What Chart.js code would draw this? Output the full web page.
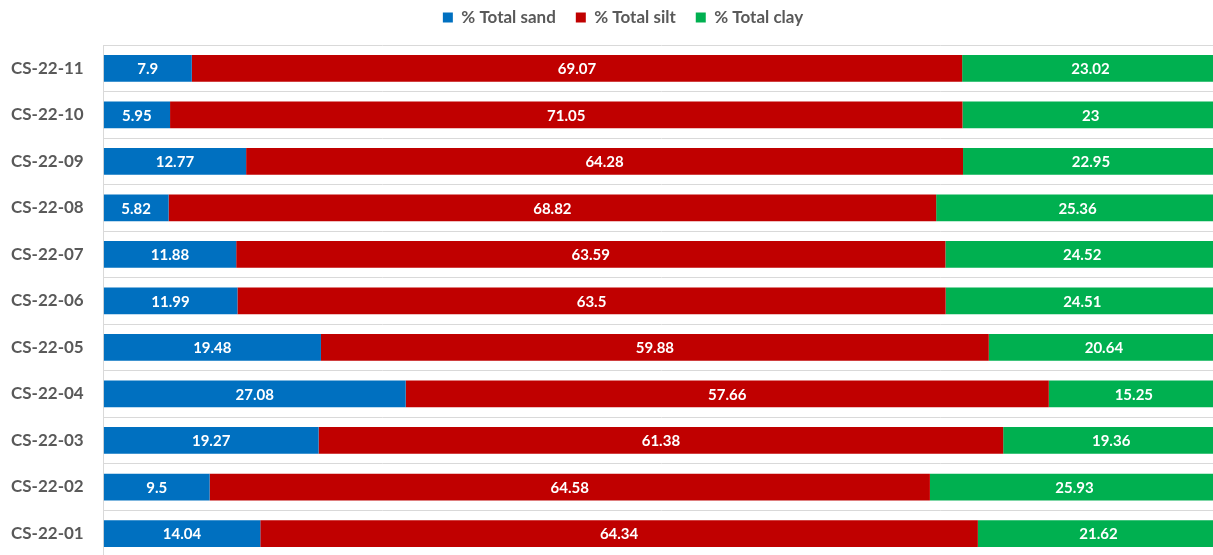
<!DOCTYPE html>
<html>
<head>
<meta charset="utf-8">
<script src="https://cdn.jsdelivr.net/npm/chart.js@4/dist/chart.umd.min.js"></script>
<style>
  html, body { margin: 0; padding: 0; background: #fff; overflow: hidden; }
  #wrap { width: 1219px; height: 587px; position: relative; }
</style>
</head>
<body>
<div id="wrap"><canvas id="soilChart"></canvas></div>
<script>
// Samples, listed top to bottom
const samples = ['CS-22-11', 'CS-22-10', 'CS-22-09', 'CS-22-08', 'CS-22-07', 'CS-22-06',
                 'CS-22-05', 'CS-22-04', 'CS-22-03', 'CS-22-02', 'CS-22-01'];
const sand = [7.9, 5.95, 12.77, 5.82, 11.88, 11.99, 19.48, 27.08, 19.27, 9.5, 14.04];
const silt = [69.07, 71.05, 64.28, 68.82, 63.59, 63.5, 59.88, 57.66, 61.38, 64.58, 64.34];
const clay = [23.02, 23, 22.95, 25.36, 24.52, 24.51, 20.64, 15.25, 19.36, 25.93, 21.62];

const FONT = 'Lato, "Open Sans", sans-serif';

// white value labels centred in each segment
const segmentLabels = {
  id: 'segmentLabels',
  afterDatasetsDraw(chart) {
    const ctx = chart.ctx;
    ctx.save();
    ctx.font = 'bold 15px ' + FONT;
    ctx.fillStyle = '#ffffff';
    ctx.textAlign = 'center';
    ctx.textBaseline = 'middle';
    chart.data.datasets.forEach((ds, i) => {
      const meta = chart.getDatasetMeta(i);
      meta.data.forEach((bar, j) => {
        const cx = (bar.x + bar.base) / 2;
        ctx.fillText(String(ds.data[j]), cx, bar.y + 1);
      });
    });
    ctx.restore();
  }
};

// fixed legend block height, legend nudged a little to the right
const legendPlacement = {
  id: 'legendPlacement',
  beforeInit(chart) {
    const fit = chart.legend.fit;
    chart.legend.fit = function () {
      fit.call(this);
      this.height = 56;
    };
  },
  afterLayout(chart) {
    chart.legend.left += 18;
    chart.legend.right += 18;
  }
};

new Chart(document.getElementById('soilChart'), {
  type: 'bar',
  data: {
    labels: samples,
    datasets: [
      { label: '% Total sand', data: sand, backgroundColor: '#0070C0' },
      { label: '% Total silt', data: silt, backgroundColor: '#C00000' },
      { label: '% Total clay', data: clay, backgroundColor: '#00B050' }
    ]
  },
  options: {
    indexAxis: 'y',
    responsive: true,
    maintainAspectRatio: false,
    animation: false,
    categoryPercentage: 1,
    barPercentage: 0.575,
    borderWidth: 0,
    layout: { padding: { left: -9, top: -11, right: 0, bottom: 0 } },
    plugins: {
      legend: {
        position: 'top',
        labels: {
          boxWidth: 10,
          boxHeight: 10,
          padding: 20,
          color: '#595959',
          font: { family: FONT, size: 17, weight: 'bold' }
        }
      },
      tooltip: { enabled: false }
    },
    scales: {
      x: {
        stacked: true,
        min: 0,
        max: 100,
        display: false
      },
      y: {
        stacked: true,
        grid: { color: '#d9d9d9', lineWidth: 1, drawTicks: false },
        border: { color: '#d9d9d9' },
        ticks: {
          padding: 20,
          color: '#595959',
          font: { family: FONT, size: 17, weight: 'bold' }
        }
      }
    }
  },
  plugins: [segmentLabels, legendPlacement]
});
</script>
</body>
</html>
